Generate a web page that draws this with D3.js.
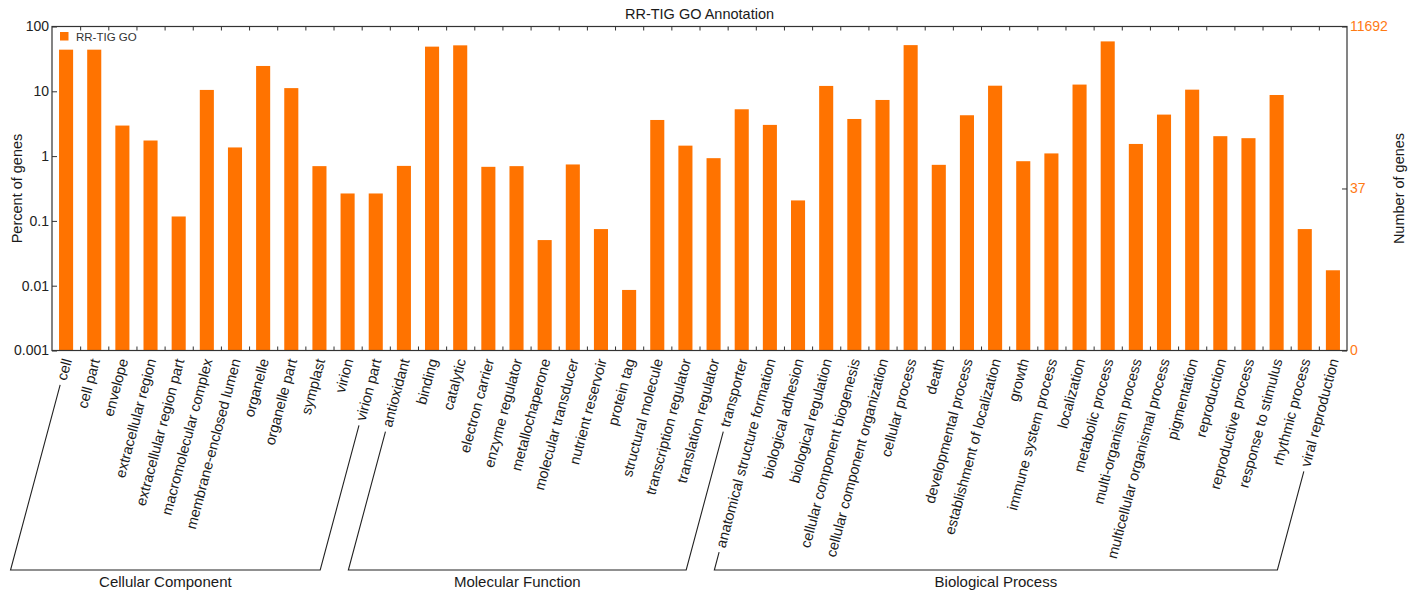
<!DOCTYPE html>
<html>
<head>
<meta charset="utf-8">
<title>RR-TIG GO Annotation</title>
<script src="https://cdn.jsdelivr.net/npm/d3@7"></script>
<style>
  body { margin: 0; background: #fff; }
  svg text { font-family: "Liberation Sans", Arial, Helvetica, sans-serif; }
</style>
</head>
<body>
<svg id="chart" width="1417" height="592"></svg>
<script>
// ---- data ----
const chartTitle = "RR-TIG GO Annotation";
const seriesName = "RR-TIG GO";
const totalGenes = 11692;

const categories = [
  "cell", "cell part", "envelope", "extracellular region", "extracellular region part",
  "macromolecular complex", "membrane-enclosed lumen", "organelle", "organelle part",
  "symplast", "virion", "virion part",
  "antioxidant", "binding", "catalytic", "electron carrier", "enzyme regulator",
  "metallochaperone", "molecular transducer", "nutrient reservoir", "protein tag",
  "structural molecule", "transcription regulator", "translation regulator", "transporter",
  "anatomical structure formation", "biological adhesion", "biological regulation",
  "cellular component biogenesis", "cellular component organization", "cellular process",
  "death", "developmental process", "establishment of localization", "growth",
  "immune system process", "localization", "metabolic process", "multi-organism process",
  "multicellular organismal process", "pigmentation", "reproduction", "reproductive process",
  "response to stimulus", "rhythmic process", "viral reproduction"
];

// percent of genes per GO term
const percentValues = [
  43.9, 43.9, 2.96, 1.74, 0.117, 10.5, 1.36, 24.6, 11.2, 0.70, 0.265, 0.265,
  0.706, 48.9, 51.2, 0.683, 0.70, 0.0506, 0.743, 0.0748, 0.0086, 3.61, 1.45, 0.929, 5.28,
  3.03, 0.207, 12.1, 3.74, 7.35, 51.6, 0.733, 4.27, 12.2, 0.834,
  1.10, 12.7, 58.9, 1.54, 4.37, 10.6, 2.03, 1.89, 8.77, 0.0748, 0.0173
];

const groupNames = ["Cellular Component", "Molecular Function", "Biological Process"];
const groupSizes = [12, 13, 21];

const leftTickValues = [0.001, 0.01, 0.1, 1, 10, 100];
const leftTickLabels = ["0.001", "0.01", "0.1", "1", "10", "100"];
const rightTickValues = [totalGenes * 1e-5, 37, totalGenes];
const rightTickLabels = ["0", "37", "11692"];

// ---- layout ----
const ORANGE = "#ff7300";
const AXIS = "#333";
const plot = { left: 52, right: 1347, top: 26.5, bottom: 350.5 };
const LABEL_ANGLE = 75;
const LABEL_DX = 1, LABEL_Y = 359;
const BRACKET_Y = 570, BRACKET_GAP = 5;

const svg = d3.select("#chart");

const x = d3.scaleBand().domain(categories)
  .range([plot.left, plot.right]).paddingInner(0.5).paddingOuter(0.25);
const y = d3.scaleLog().domain([0.001, 100]).range([plot.bottom, plot.top]);
const yR = d3.scaleLog().domain([totalGenes * 1e-5, totalGenes]).range([plot.bottom, plot.top]);
const slot = d3.scaleLinear().domain([0, categories.length]).range([plot.left, plot.right]);

// bars
svg.append("g").selectAll("rect").data(categories).join("rect")
  .attr("x", d => x(d))
  .attr("width", x.bandwidth())
  .attr("y", (d, i) => y(percentValues[i]))
  .attr("height", (d, i) => plot.bottom - y(percentValues[i]))
  .attr("fill", ORANGE);

// slot tick marks on top and bottom edges
const slotTicks = d3.range(1, categories.length);
svg.append("g").attr("transform", `translate(0,${plot.bottom})`)
  .call(d3.axisBottom(slot).tickValues(slotTicks).tickSize(-4).tickFormat(""))
  .call(g => g.select(".domain").remove());
svg.append("g").attr("transform", `translate(0,${plot.top})`)
  .call(d3.axisTop(slot).tickValues(slotTicks).tickSize(-4).tickFormat(""))
  .call(g => g.select(".domain").remove());

// left axis (percent, log)
svg.append("g").attr("transform", `translate(${plot.left},0)`)
  .call(d3.axisLeft(y).tickValues(leftTickValues)
    .tickFormat((d, i) => leftTickLabels[i]).tickSizeInner(-5).tickSizeOuter(0).tickPadding(3))
  .call(g => g.select(".domain").remove())
  .call(g => g.selectAll("text").style("font-size", "14px").attr("fill", "#222"));

// right axis (number of genes)
svg.append("g").attr("transform", `translate(${plot.right},0)`)
  .call(d3.axisRight(yR).tickValues(rightTickValues)
    .tickFormat((d, i) => rightTickLabels[i]).tickSizeInner(-5).tickSizeOuter(0).tickPadding(3))
  .call(g => g.select(".domain").remove())
  .call(g => g.selectAll("text").style("font-size", "14px").attr("fill", "#ff7a14"));

svg.selectAll(".tick line").attr("stroke", AXIS);

// frame
svg.append("rect")
  .attr("x", plot.left).attr("y", plot.top)
  .attr("width", plot.right - plot.left).attr("height", plot.bottom - plot.top)
  .attr("fill", "none").attr("stroke", AXIS).attr("stroke-width", 1.2);

// title
svg.append("text").attr("x", (plot.left + plot.right) / 2).attr("y", 19)
  .attr("text-anchor", "middle").style("font-size", "14.5px").attr("fill", "#1a1a1a")
  .text(chartTitle);

// axis titles
svg.append("text").attr("transform", `translate(17,${(plot.top + plot.bottom) / 2}) rotate(-90)`)
  .attr("text-anchor", "middle").attr("dy", "0.35em").style("font-size", "14.5px").attr("fill", "#1a1a1a")
  .text("Percent of genes");
svg.append("text").attr("transform", `translate(1399,${(plot.top + plot.bottom) / 2}) rotate(-90)`)
  .attr("text-anchor", "middle").attr("dy", "0.35em").style("font-size", "14.5px").attr("fill", "#1a1a1a")
  .text("Number of genes");

// legend
const legend = svg.append("g").attr("transform", "translate(60,32)");
legend.append("rect").attr("width", 8.5).attr("height", 8.5).attr("fill", ORANGE);
legend.append("text").attr("x", 16).attr("y", 8.5).style("font-size", "11.5px").attr("fill", "#333")
  .text(seriesName);

// rotated category labels
const labels = svg.append("g").selectAll("text").data(categories).join("text")
  .attr("transform", d => `translate(${x(d) + x.bandwidth() / 2 + LABEL_DX},${LABEL_Y}) rotate(${-LABEL_ANGLE})`)
  .attr("text-anchor", "end").attr("dy", "0.35em")
  .style("font-size", "14.5px").attr("fill", "#1a1a1a")
  .text(d => d);
const labelNodes = labels.nodes();

// group brackets: legs follow the first and last labels down to a common baseline
const rad = LABEL_ANGLE * Math.PI / 180;
const ux = Math.cos(rad), uy = -Math.sin(rad);
function leg(i) {
  const ax = x(categories[i]) + x.bandwidth() / 2 + LABEL_DX, ay = LABEL_Y;
  const L = labelNodes[i].getComputedTextLength() + BRACKET_GAP;
  const sx = ax - L * ux, sy = ay - L * uy;
  const t = (BRACKET_Y - sy) / (-uy);
  return { start: [sx, sy], end: [sx - t * ux, BRACKET_Y] };
}

let offset = 0;
const brackets = svg.append("g");
groupNames.forEach((name, gi) => {
  const first = offset, last = offset + groupSizes[gi] - 1;
  offset += groupSizes[gi];
  const a = leg(first), b = leg(last);
  const line = d3.line();
  brackets.append("path")
    .attr("d", line([a.start, a.end, b.end, b.start]))
    .attr("fill", "none").attr("stroke", "#222").attr("stroke-width", 1.1);
  brackets.append("text")
    .attr("x", (a.end[0] + b.end[0]) / 2).attr("y", 586.5)
    .attr("text-anchor", "middle").style("font-size", "15px").attr("fill", "#1a1a1a")
    .text(name);
});
</script>
</body>
</html>
